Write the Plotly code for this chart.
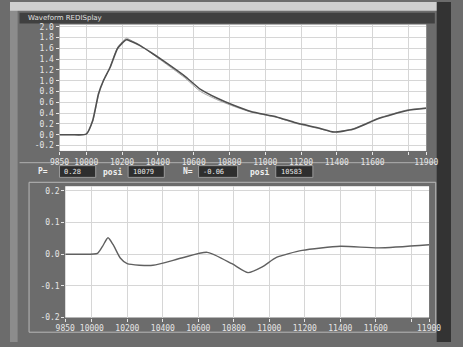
import plotly.graph_objects as go

# ---- data ----
top_x = [9850, 9920, 9999, 10036, 10068, 10095, 10132, 10175, 10223, 10249, 10300, 10372,
         10425, 10548, 10638, 10729, 10820, 10920, 11064, 11171, 11304, 11384, 11490,
         11634, 11794, 11900]
top_y = [0.0, 0.0, 0.01, 0.27, 0.76, 1.0, 1.24, 1.6, 1.76, 1.73, 1.65, 1.50,
         1.38, 1.09, 0.84, 0.68, 0.55, 0.43, 0.33, 0.22, 0.12, 0.05, 0.10,
         0.30, 0.45, 0.49]
ref_y = [0.0, 0.0, 0.01, 0.25, 0.74, 0.99, 1.25, 1.62, 1.79, 1.75, 1.66, 1.49,
         1.36, 1.06, 0.80, 0.65, 0.53, 0.42, 0.32, 0.21, 0.11, 0.05, 0.11,
         0.31, 0.46, 0.50]

bot_x = [9850, 9950, 10032, 10060, 10091, 10120, 10160, 10199, 10344, 10505, 10650,
         10789, 10880, 10960, 11040, 11185, 11400, 11615, 11900]
bot_y = [0.0, 0.0, 0.003, 0.025, 0.052, 0.03, -0.012, -0.03, -0.035, -0.012, 0.006,
         -0.03, -0.058, -0.04, -0.01, 0.012, 0.025, 0.02, 0.03]

x_tickvals = [9850, 10000, 10200, 10400, 10600, 10800, 11000, 11200, 11400, 11600, 11800, 11900]
x_ticktext = ["9850", "10000", "10200", "10400", "10600", "10800", "11000", "11200",
              "11400", "11600", "", "11900"]
top_tickvals = [-0.2, 0.0, 0.2, 0.4, 0.6, 0.8, 1.0, 1.2, 1.4, 1.6, 1.8, 2.0]
top_ticktext = ["-0.2", "0.0", "0.2", "0.4", "0.6", "0.8", "1.0", "1.2", "1.4", "1.6", "1.8", "2.0"]
bot_tickvals = [-0.2, -0.1, 0.0, 0.1, 0.2]
bot_ticktext = ["-0.2", "-0.1", "0.0", "0.1", "0.2"]

readouts = [("P=", "0.28"), ("posi", "10079"), ("N=", "-0.06"), ("posi", "10583")]
title_text = "Waveform REDISplay"

W, H = 463, 347
def X(px): return px / W
def Y(py): return 1 - py / H

fig = go.Figure()
fig.add_trace(go.Scatter(x=top_x, y=ref_y, mode="lines", line=dict(color="#a8a8a8", width=1, shape="spline", smoothing=0.5),
                         xaxis="x", yaxis="y", hoverinfo="skip"))
fig.add_trace(go.Scatter(x=top_x, y=top_y, mode="lines", line=dict(color="#505050", width=1.6, shape="spline", smoothing=0.5),
                         xaxis="x", yaxis="y"))
fig.add_trace(go.Scatter(x=bot_x, y=bot_y, mode="lines", line=dict(color="#606060", width=1.4, shape="spline", smoothing=0.6),
                         xaxis="x2", yaxis="y2"))

tickfont = dict(family="DejaVu Sans Mono", size=8, color="#e6e6e6")
axcommon = dict(showgrid=True, gridcolor="#d6d6d6", gridwidth=1, zeroline=False, showline=False,
                ticks="outside", ticklen=3, tickcolor="#e6e6e6", tickfont=tickfont, fixedrange=True)

shapes = [
    # outer light margins and dark right strip
    dict(type="rect", xref="paper", yref="paper", x0=0, x1=X(8), y0=0, y1=1, fillcolor="#8c8c8c", line_width=0, layer="below"),
    dict(type="rect", xref="paper", yref="paper", x0=0, x1=1, y0=Y(9), y1=1, fillcolor="#cfcfcf", line_width=0, layer="below"),
    dict(type="rect", xref="paper", yref="paper", x0=X(448), x1=1, y0=0, y1=1, fillcolor="#333333", line_width=0, layer="below"),
    # title bar
    dict(type="rect", xref="paper", yref="paper", x0=X(10), x1=X(446), y0=Y(22), y1=Y(11), fillcolor="#404040", line_width=0, layer="below"),
    # separator + bottom panel outline
    dict(type="line", xref="paper", yref="paper", x0=X(10), x1=X(446), y0=Y(164), y1=Y(164), line=dict(color="#b0b0b0", width=1), layer="below"),
    dict(type="rect", xref="paper", yref="paper", x0=X(20), x1=X(447), y0=Y(337), y1=Y(184), fillcolor="rgba(0,0,0,0)",
         line=dict(color="#b8b8b8", width=1), layer="below"),
]

annotations = [
    dict(text=title_text, x=X(17), y=Y(16.5), xref="paper", yref="paper", xanchor="left", yanchor="middle",
         showarrow=False, font=dict(family="DejaVu Sans", size=7, color="#e0e0e0")),
]

# readout row
label_pos = [(27, 52, 90), (96, 124, 162), (180, 198, 239), (250, 279, 318)]
for (lab, val), (lx, bx0, bx1) in zip(readouts, label_pos):
    shapes.append(dict(type="rect", xref="paper", yref="paper", x0=X(bx0), x1=X(bx1), y0=Y(179), y1=Y(167),
                       fillcolor="#2e2e2e", line=dict(color="#9a9a9a", width=1), layer="below"))
    annotations.append(dict(text="<b>" + lab + "</b>", x=X(lx), y=Y(173), xref="paper", yref="paper", xanchor="left",
                            yanchor="middle", showarrow=False, font=dict(family="DejaVu Sans Mono", size=8, color="#f0f0f0")))
    annotations.append(dict(text=val, x=X(bx0 + 3), y=Y(173), xref="paper", yref="paper", xanchor="left",
                            yanchor="middle", showarrow=False, font=dict(family="DejaVu Sans Mono", size=7, color="#e8e8e8")))

fig.update_layout(
    width=W, height=H, margin=dict(l=0, r=0, t=0, b=0),
    paper_bgcolor="#6c6c6c", plot_bgcolor="#ffffff", showlegend=False,
    xaxis=dict(domain=[X(52), X(437)], range=[9850, 11900], tickvals=x_tickvals, ticktext=x_ticktext,
               anchor="y", **axcommon),
    yaxis=dict(domain=[Y(152), Y(23)], range=[-0.3, 2.04], tickvals=top_tickvals, ticktext=top_ticktext,
               anchor="x", **axcommon),
    xaxis2=dict(domain=[X(58), X(440)], range=[9850, 11900], tickvals=x_tickvals, ticktext=x_ticktext,
                anchor="y2", **axcommon),
    yaxis2=dict(domain=[Y(322), Y(188)], range=[-0.2, 0.215], tickvals=bot_tickvals, ticktext=bot_ticktext,
                anchor="x2", **axcommon),
    shapes=shapes, annotations=annotations,
)

fig.write_html("out.html")
